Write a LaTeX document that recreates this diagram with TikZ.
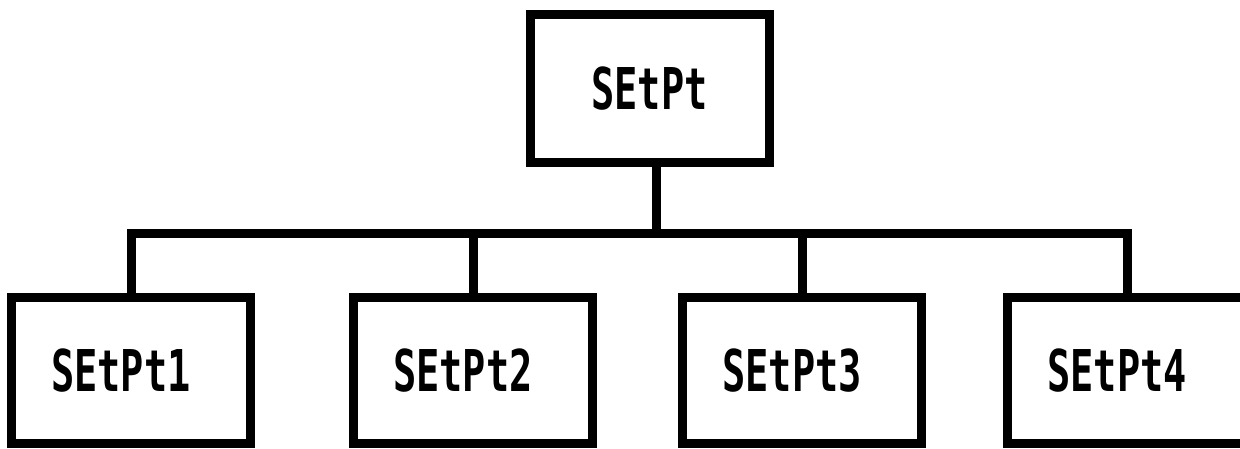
\documentclass[tikz,border=0pt]{standalone}
\usepackage{fontspec}
\newfontfamily\pixelfont[FakeStretch=0.67]{DejaVu Sans Mono Bold}
\usetikzlibrary{positioning}
\begin{document}
\begin{tikzpicture}[x=1pt, y=1pt, node distance=90pt, every node/.style={font=\pixelfont\fontsize{57.6}{60}\selectfont}, line width=9pt]
\tikzstyle{part}=[draw, line width=9pt, outer sep=0pt, inner sep=0pt, minimum width=239pt, minimum height=145.5pt]
\tikzstyle{leaf}=[part, execute at end node={\hspace*{20pt}}]
\useasboundingbox (0,0) rectangle (1240,-448);
\node[part, minimum height=148pt] (whole) at (649.5,-88.5) {SEtPt};
\node[leaf] (pt1) at (131,-370.25) {SEtPt1};
\node[leaf, right=103pt of pt1] (pt2) {SEtPt2};
\node[leaf, right=90pt of pt2] (pt3) {SEtPt3};
\node[leaf, right=86pt of pt3] (pt4) {SEtPt4};
\coordinate (hub) at (656,-233.5);
\draw (whole.south -| hub) -- (hub);
\draw (pt1.north) |- (hub) -| (pt4.north);
\draw (pt2.north) -- (pt2.north |- hub);
\draw (pt3.north) -- (pt3.north |- hub);
\end{tikzpicture}
\end{document}
